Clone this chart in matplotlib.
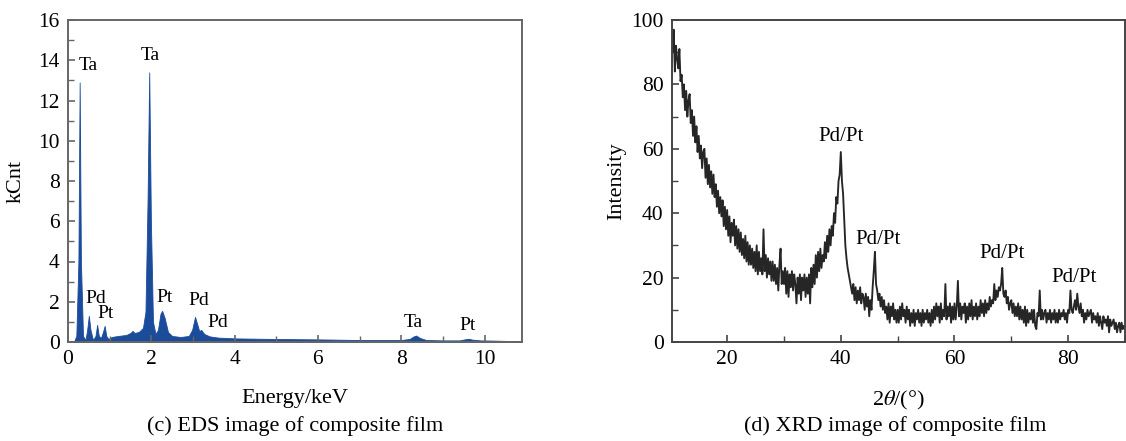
import numpy as np
import matplotlib
matplotlib.use("Agg")
import matplotlib.pyplot as plt
from matplotlib.ticker import MultipleLocator

plt.rcParams['font.family'] = ['Liberation Serif', 'DejaVu Serif']
plt.rcParams['mathtext.fontset'] = 'stix'

# ---------------- EDS data (energy keV, kCnt) ----------------
eds_energy = [0.0, 0.14, 0.2, 0.25, 0.28, 0.31, 0.36, 0.42, 0.46, 0.5, 0.54, 0.6, 0.66,
              0.7, 0.74, 0.79, 0.84, 0.88, 0.92, 0.97, 1.05, 1.2, 1.4, 1.5, 1.55, 1.6,
              1.7, 1.8, 1.86, 1.91, 1.95, 1.99, 2.04, 2.1, 2.16, 2.22, 2.26, 2.32, 2.4,
              2.5, 2.7, 2.9, 2.98, 3.05, 3.1, 3.15, 3.2, 3.27, 3.4, 3.6, 3.8, 4.0, 5.0,
              6.0, 7.0, 8.0, 8.2, 8.3, 8.36, 8.45, 8.6, 9.0, 9.4, 9.55, 9.62, 9.7, 9.9,
              10.2, 10.6, 11.0]
eds_kcnt = [0, 0, 0.3, 4.0, 12.9, 4.0, 0.3, 0.1, 0.6, 1.3, 0.6, 0.1, 0.3,
            0.85, 0.3, 0.2, 0.5, 0.8, 0.3, 0.15, 0.25, 0.3, 0.35, 0.45, 0.55, 0.45,
            0.5, 0.7, 1.5, 7.0, 13.4, 6.0, 1.0, 0.4, 0.6, 1.4, 1.55, 1.2, 0.5,
            0.3, 0.25, 0.3, 0.6, 1.25, 0.9, 0.55, 0.6, 0.4, 0.28, 0.22, 0.2, 0.18, 0.15,
            0.13, 0.1, 0.1, 0.15, 0.28, 0.32, 0.2, 0.1, 0.08, 0.08, 0.14, 0.16, 0.12, 0.08,
            0.07, 0.05, 0.05]
eds_labels = ["Ta", "Ta", "Pd", "Pt", "Pt", "Pd", "Pd", "Ta", "Pt"]
eds_label_x = [0.48, 1.97, 0.67, 0.91, 2.33, 3.15, 3.6, 8.3, 9.6]
eds_label_y = [13.3, 13.8, 1.75, 1.0, 1.8, 1.65, 0.55, 0.55, 0.4]

# ---------------- XRD data (2theta from 10 to 90, step 0.2) ----------------
xrd_start, xrd_step = 10.0, 0.2
xrd_intensity = [
    86, 94, 90, 97, 84, 92, 88, 85, 91, 81,
    83, 76, 80, 72, 78, 70, 75, 77, 68, 72,
    64, 70, 62, 67, 59, 64, 57, 61, 54, 59,
    60, 51, 57, 49, 55, 48, 53, 46, 52, 45,
    49, 42, 47, 40, 45, 39, 44, 36, 42, 35,
    41, 33, 39, 31, 37, 33, 38, 30, 36, 29,
    35, 28, 34, 27, 32, 26, 33, 25, 31, 24,
    30, 24, 29, 23, 28, 22, 30, 21, 28, 22,
    26, 21, 35, 22, 27, 20, 26, 21, 25, 19,
    25, 19, 24, 18, 23, 16, 24, 29, 18, 22,
    18, 23, 15, 22, 14, 21, 17, 22, 16, 21,
    18, 12, 20, 15, 21, 13, 20, 16, 21, 14,
    20, 15, 21, 12, 23, 17, 24, 18, 27, 20,
    28, 22, 29, 23, 27, 25, 31, 26, 33, 28,
    35, 30, 36, 33, 40, 37, 45, 43, 50, 52,
    59, 50, 46, 38, 30, 26, 23, 21, 19, 17,
    15, 18, 13, 17, 12, 16, 13, 17, 12, 15,
    14, 10, 15, 11, 14, 8, 13, 10, 17, 22,
    28, 18, 16, 13, 15, 11, 14, 10, 13, 9,
    11, 7, 12, 6, 11, 8, 12, 7, 10, 6,
    10, 6, 11, 7, 12, 8, 10, 6, 11, 7,
    10, 5, 9, 6, 10, 5, 9, 7, 10, 6,
    9, 5, 10, 6, 9, 7, 10, 6, 9, 5,
    10, 6, 11, 7, 12, 8, 11, 6, 12, 7,
    10, 8, 18, 7, 11, 8, 12, 6, 11, 7,
    12, 7, 11, 19, 8, 12, 7, 11, 9, 12,
    6, 11, 7, 12, 8, 13, 7, 11, 8, 12,
    7, 11, 8, 13, 9, 12, 8, 13, 9, 12,
    10, 14, 11, 13, 12, 18, 13, 16, 14, 17,
    16, 18, 23, 15, 14, 16, 12, 14, 10, 12,
    13, 9, 12, 8, 11, 8, 12, 7, 11, 7,
    10, 6, 11, 5, 10, 6, 9, 7, 10, 6,
    10, 5, 4, 9, 8, 16, 7, 10, 7, 9,
    10, 6, 9, 7, 10, 6, 9, 7, 10, 6,
    9, 6, 10, 7, 9, 8, 10, 7, 9, 6,
    10, 9, 16, 10, 9, 11, 13, 10, 15, 11,
    9, 12, 8, 10, 6, 9, 7, 10, 8, 9,
    10, 6, 9, 7, 8, 6, 9, 5, 8, 6,
    4, 8, 6, 7, 5, 8, 3, 7, 5, 6,
    7, 4, 6, 3, 5, 6, 3, 6, 4, 5,
    4]
xrd_labels = ["Pd/Pt", "Pd/Pt", "Pd/Pt", "Pd/Pt"]
xrd_label_x = [40.0, 46.5, 68.4, 81.0]
xrd_label_y = [61.0, 28.8, 24.4, 17.0]

W, H = 1126, 441
fig = plt.figure(figsize=(W / 100, H / 100), dpi=100)

def ax_rect(x0, x1, y0, y1):
    return [x0 / W, 1 - y1 / H, (x1 - x0) / W, (y1 - y0) / H]

blue = '#1b4c9c'
tick_fs = 15.5
lab_fs = 16

# ---------- EDS ----------
ax1 = fig.add_axes(ax_rect(68, 522, 20, 342))
ax1.fill_between(eds_energy, 0, eds_kcnt, color=blue, lw=0.6, edgecolor=blue)
ax1.set_xlim(0, 10.9)
ax1.set_ylim(0, 16)
ax1.xaxis.set_major_locator(MultipleLocator(2))
ax1.xaxis.set_minor_locator(MultipleLocator(1))
ax1.yaxis.set_major_locator(MultipleLocator(2))
ax1.yaxis.set_minor_locator(MultipleLocator(1))
ax1.set_xlabel("Energy/keV", fontsize=lab_fs)
ax1.set_ylabel("kCnt", fontsize=lab_fs)
ax1.xaxis.set_label_coords(0.5, -0.145)
ax1.yaxis.set_label_coords(-0.093, 0.5)
for t, x, y in zip(eds_labels, eds_label_x, eds_label_y):
    ax1.text(x, y, t, fontsize=14, ha='center', va='bottom')

# ---------- XRD ----------
ax2 = fig.add_axes(ax_rect(672, 1125, 20, 342))
xrd_x = xrd_start + xrd_step * np.arange(len(xrd_intensity))
ax2.plot(xrd_x, xrd_intensity, color='#262626', lw=1.35)
ax2.set_xlim(10.3, 90)
ax2.set_ylim(0, 100)
ax2.xaxis.set_major_locator(MultipleLocator(20))
ax2.xaxis.set_minor_locator(MultipleLocator(10))
ax2.yaxis.set_major_locator(MultipleLocator(20))
ax2.yaxis.set_minor_locator(MultipleLocator(10))
ax2.set_xlabel(r"2$\theta$/(°)", fontsize=lab_fs)
ax2.set_ylabel("Intensity", fontsize=lab_fs)
ax2.xaxis.set_label_coords(0.5, -0.145)
ax2.yaxis.set_label_coords(-0.10, 0.5)
for t, x, y in zip(xrd_labels, xrd_label_x, xrd_label_y):
    ax2.text(x, y, t, fontsize=15, ha='center', va='bottom')

for ax, sc in ((ax1, '#666666'), (ax2, '#444444')):
    for s in ax.spines.values():
        s.set_color(sc)
        s.set_linewidth(1.4)
    ax.tick_params(which='both', direction='in', top=False, right=False,
                   color=sc, labelsize=tick_fs, pad=6)
    ax.tick_params(which='major', length=5, width=1.2)
    ax.tick_params(which='minor', length=4, width=1.0)

fig.text(295 / W, 1 - 426 / H, "(c) EDS image of composite film", fontsize=lab_fs,
         ha='center', va='center')
fig.text(895 / W, 1 - 426 / H, "(d) XRD image of composite film", fontsize=lab_fs,
         ha='center', va='center')

fig.savefig("out.png", dpi=100)
